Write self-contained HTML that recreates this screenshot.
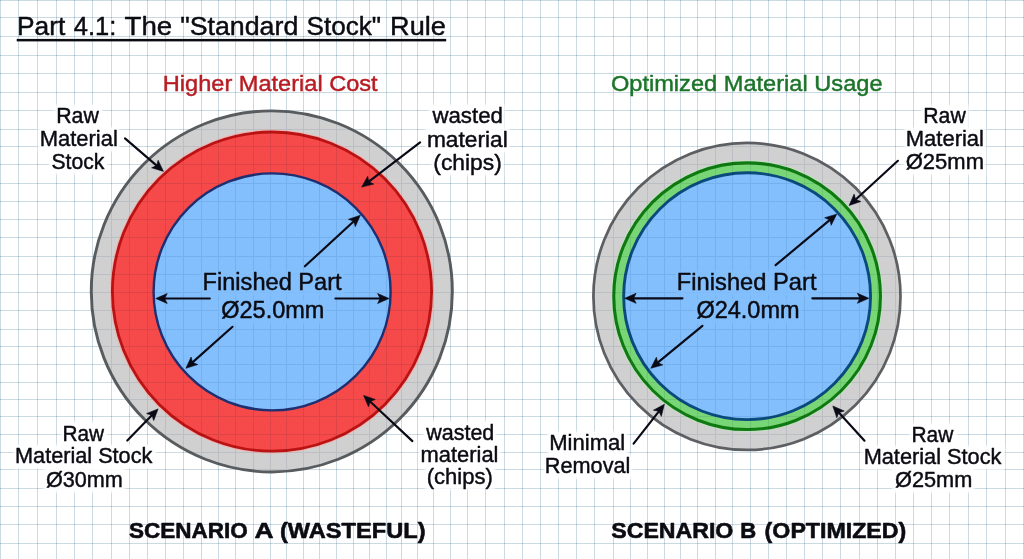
<!DOCTYPE html>
<html lang="en"><head><meta charset="utf-8"><title>Part 4.1: The Standard Stock Rule</title>
<style>html,body{margin:0;padding:0;background:#fff;}body{width:1024px;height:559px;overflow:hidden;}svg{display:block;font-family:"Liberation Sans",Arial,Helvetica,sans-serif;}.mul{mix-blend-mode:multiply;}</style></head><body>
<svg width="1024" height="559" viewBox="0 0 1024 559">
<rect width="1024" height="559" fill="#ffffff"/>
<g id="grid" fill="none" stroke="#cbdae2" stroke-width="1"><path class="mul" d="M0.5 0V559M18.5 0V559M37.5 0V559M56.5 0V559M74.5 0V559M92.5 0V559M111.5 0V559M129.5 0V559M147.5 0V559M165.5 0V559M183.5 0V559M201.5 0V559M218.5 0V559M235.5 0V559M253.5 0V559M270.5 0V559M286.5 0V559M303.5 0V559M319.5 0V559M336.5 0V559M353.5 0V559M369.5 0V559M386.5 0V559M401.5 0V559M417.5 0V559M433.5 0V559M450.5 0V559M467.5 0V559M485.5 0V559M504.5 0V559M522.5 0V559M540.5 0V559M558.5 0V559M576.5 0V559M594.5 0V559M613.5 0V559M630.5 0V559M647.5 0V559M664.5 0V559M680.5 0V559M697.5 0V559M715.5 0V559M732.5 0V559M750.5 0V559M768.5 0V559M786.5 0V559M804.5 0V559M822.5 0V559M840.5 0V559M859.5 0V559M877.5 0V559M895.5 0V559M913.5 0V559M931.5 0V559M949.5 0V559M968.5 0V559M986.5 0V559M1005.5 0V559M1023.5 0V559"/><path class="mul" d="M0 0.5H1024M0 17.5H1024M0 36.5H1024M0 55.5H1024M0 73.5H1024M0 92.5H1024M0 110.5H1024M0 129.5H1024M0 146.5H1024M0 164.5H1024M0 183.5H1024M0 201.5H1024M0 219.5H1024M0 237.5H1024M0 256.5H1024M0 274.5H1024M0 292.5H1024M0 310.5H1024M0 329.5H1024M0 346.5H1024M0 364.5H1024M0 382.5H1024M0 399.5H1024M0 416.5H1024M0 434.5H1024M0 452.5H1024M0 469.5H1024M0 488.5H1024M0 506.5H1024M0 524.5H1024M0 543.5H1024"/></g>
<defs><filter id="bl" x="-10%" y="-20%" width="120%" height="140%"><feGaussianBlur stdDeviation="1.3"/></filter></defs>
<g id="knockout" fill="#ffffff" fill-opacity="0.92" filter="url(#bl)">
<rect x="54.6" y="104.8" width="47.5" height="24"/>
<rect x="38.1" y="127.3" width="81.5" height="24"/>
<rect x="49.2" y="150.2" width="58.4" height="24"/>
<rect x="429.2" y="104.2" width="75.6" height="24"/>
<rect x="425.2" y="128.2" width="84.4" height="24"/>
<rect x="431.6" y="151.4" width="72.1" height="24"/>
<rect x="60.8" y="422.2" width="46.5" height="24"/>
<rect x="13.5" y="444.9" width="142.0" height="24"/>
<rect x="43.7" y="468.5" width="81.0" height="24"/>
<rect x="423.0" y="421.1" width="73.2" height="24"/>
<rect x="418.8" y="443.8" width="81.5" height="24"/>
<rect x="425.0" y="465.7" width="69.8" height="24"/>
<rect x="921.7" y="104.9" width="47.3" height="24"/>
<rect x="904.2" y="127.9" width="81.6" height="24"/>
<rect x="903.5" y="150.9" width="82.3" height="24"/>
<rect x="547.7" y="431.4" width="79.4" height="24"/>
<rect x="543.3" y="454.7" width="88.8" height="24"/>
<rect x="909.9" y="423.1" width="46.8" height="24"/>
<rect x="862.1" y="445.7" width="142.6" height="24"/>
<rect x="892.7" y="468.8" width="81.4" height="24"/>
</g>
<g id="shapes">
<circle cx="271.8" cy="291.4" r="180.55" fill="#d0d0d0" stroke="#585c5e" stroke-width="2.9"/>
<circle cx="272" cy="291.6" r="161.5" fill="none" stroke="#f3b4b4" stroke-width="1.2"/>
<circle cx="272" cy="291.6" r="159.60" fill="#f6494a" stroke="#bb1313" stroke-width="2.8"/>
<circle cx="272.1" cy="291.9" r="118.50" fill="#82bffc" stroke="#1f2f70" stroke-width="2.4"/>
<circle cx="746.95" cy="296.4" r="153.55" fill="#d0d0d0" stroke="#5e5f62" stroke-width="2.7"/>
<circle cx="747.1" cy="296.2" r="135.3" fill="none" stroke="#bfe3bf" stroke-width="1.2"/>
<circle cx="747.1" cy="296.2" r="133.35" fill="#78d676" stroke="#107a12" stroke-width="3.1"/>
<circle cx="747.1" cy="296.2" r="123.45" fill="#82bffc" stroke="#0a4a7c" stroke-width="2.9"/>
</g>
<clipPath id="cc"><circle cx="272" cy="291.5" r="180.4"/><circle cx="747" cy="296.2" r="153.2"/></clipPath>
<g id="grid-over" class="mul" clip-path="url(#cc)" fill="none" stroke="#e5ebf1" stroke-width="1"><path d="M0.5 0V559M18.5 0V559M37.5 0V559M56.5 0V559M74.5 0V559M92.5 0V559M111.5 0V559M129.5 0V559M147.5 0V559M165.5 0V559M183.5 0V559M201.5 0V559M218.5 0V559M235.5 0V559M253.5 0V559M270.5 0V559M286.5 0V559M303.5 0V559M319.5 0V559M336.5 0V559M353.5 0V559M369.5 0V559M386.5 0V559M401.5 0V559M417.5 0V559M433.5 0V559M450.5 0V559M467.5 0V559M485.5 0V559M504.5 0V559M522.5 0V559M540.5 0V559M558.5 0V559M576.5 0V559M594.5 0V559M613.5 0V559M630.5 0V559M647.5 0V559M664.5 0V559M680.5 0V559M697.5 0V559M715.5 0V559M732.5 0V559M750.5 0V559M768.5 0V559M786.5 0V559M804.5 0V559M822.5 0V559M840.5 0V559M859.5 0V559M877.5 0V559M895.5 0V559M913.5 0V559M931.5 0V559M949.5 0V559M968.5 0V559M986.5 0V559M1005.5 0V559M1023.5 0V559M0 0.5H1024M0 17.5H1024M0 36.5H1024M0 55.5H1024M0 73.5H1024M0 92.5H1024M0 110.5H1024M0 129.5H1024M0 146.5H1024M0 164.5H1024M0 183.5H1024M0 201.5H1024M0 219.5H1024M0 237.5H1024M0 256.5H1024M0 274.5H1024M0 292.5H1024M0 310.5H1024M0 329.5H1024M0 346.5H1024M0 364.5H1024M0 382.5H1024M0 399.5H1024M0 416.5H1024M0 434.5H1024M0 452.5H1024M0 469.5H1024M0 488.5H1024M0 506.5H1024M0 524.5H1024M0 543.5H1024"/></g>
<g id="knockout-in" fill="#82bffc" fill-opacity="0.8" filter="url(#bl)">
<rect x="201.4" y="271.1" width="143.2" height="25"/>
<rect x="219.0" y="299.0" width="107.2" height="25"/>
<rect x="675.7" y="270.9" width="143.8" height="25"/>
<rect x="694.2" y="298.8" width="107.2" height="25"/>
</g>
<g id="arrows" fill="#0a0a16" stroke="#0a0a16">
<line x1="125.0" y1="138.4" x2="156.7" y2="165.6" stroke-width="2.15" stroke-linecap="round"/>
<polygon points="163.5,171.4 151.6,167.8 156.7,165.6 158.1,160.2" stroke-width="0.6" stroke-linejoin="round"/>
<line x1="420.1" y1="142.4" x2="368.8" y2="181.7" stroke-width="2.15" stroke-linecap="round"/>
<polygon points="361.7,187.1 367.7,176.2 368.8,181.7 373.8,184.1" stroke-width="0.6" stroke-linejoin="round"/>
<line x1="304.9" y1="266.3" x2="353.8" y2="221.3" stroke-width="2.15" stroke-linecap="round"/>
<polygon points="360.3,215.3 355.3,226.7 353.8,221.3 348.5,219.3" stroke-width="0.6" stroke-linejoin="round"/>
<line x1="209.8" y1="298.5" x2="164.7" y2="298.5" stroke-width="2.15" stroke-linecap="round"/>
<polygon points="155.8,298.5 167.2,293.5 164.7,298.5 167.2,303.5" stroke-width="0.6" stroke-linejoin="round"/>
<line x1="335.4" y1="298.5" x2="380.1" y2="298.5" stroke-width="2.15" stroke-linecap="round"/>
<polygon points="389.0,298.5 377.6,303.5 380.1,298.5 377.6,293.5" stroke-width="0.6" stroke-linejoin="round"/>
<line x1="232.5" y1="326.8" x2="192.5" y2="362.4" stroke-width="2.15" stroke-linecap="round"/>
<polygon points="185.9,368.3 191.1,357.0 192.5,362.4 197.7,364.5" stroke-width="0.6" stroke-linejoin="round"/>
<line x1="127.3" y1="440.5" x2="151.9" y2="415.3" stroke-width="2.15" stroke-linecap="round"/>
<polygon points="158.1,408.9 153.7,420.6 151.9,415.3 146.6,413.6" stroke-width="0.6" stroke-linejoin="round"/>
<line x1="412.4" y1="441.1" x2="370.1" y2="401.5" stroke-width="2.15" stroke-linecap="round"/>
<polygon points="363.6,395.4 375.3,399.5 370.1,401.5 368.5,406.8" stroke-width="0.6" stroke-linejoin="round"/>
<line x1="897.9" y1="160.8" x2="855.7" y2="199.5" stroke-width="2.15" stroke-linecap="round"/>
<polygon points="849.1,205.5 854.1,194.1 855.7,199.5 860.9,201.5" stroke-width="0.6" stroke-linejoin="round"/>
<line x1="775.6" y1="265.2" x2="829.9" y2="219.9" stroke-width="2.15" stroke-linecap="round"/>
<polygon points="836.7,214.2 831.2,225.3 829.9,219.9 824.7,217.7" stroke-width="0.6" stroke-linejoin="round"/>
<line x1="682.5" y1="298.3" x2="633.6" y2="298.3" stroke-width="2.15" stroke-linecap="round"/>
<polygon points="624.7,298.3 636.1,293.3 633.6,298.3 636.1,303.3" stroke-width="0.6" stroke-linejoin="round"/>
<line x1="812.3" y1="298.3" x2="859.9" y2="298.3" stroke-width="2.15" stroke-linecap="round"/>
<polygon points="868.8,298.3 857.4,303.3 859.9,298.3 857.4,293.3" stroke-width="0.6" stroke-linejoin="round"/>
<line x1="702.4" y1="325.8" x2="657.7" y2="362.6" stroke-width="2.15" stroke-linecap="round"/>
<polygon points="650.8,368.3 656.4,357.2 657.7,362.6 662.8,364.9" stroke-width="0.6" stroke-linejoin="round"/>
<line x1="633.6" y1="443.7" x2="658.9" y2="411.3" stroke-width="2.15" stroke-linecap="round"/>
<polygon points="664.4,404.3 661.3,416.4 658.9,411.3 653.4,410.2" stroke-width="0.6" stroke-linejoin="round"/>
<line x1="864.5" y1="440.7" x2="838.8" y2="412.6" stroke-width="2.15" stroke-linecap="round"/>
<polygon points="832.8,406.0 844.2,411.0 838.8,412.6 836.8,417.8" stroke-width="0.6" stroke-linejoin="round"/>
</g>
<rect x="16.7" y="38.9" width="429.5" height="2.5" fill="#0b0b12"/>
<g id="labels" stroke-linejoin="round">
<text transform="translate(162.82 90.9) scale(1.0340 1)" font-size="22.8" font-weight="400" fill="#b81c22" stroke="#b81c22" stroke-width="0.45">Higher Material Cost</text>
<text transform="translate(610.89 90.8) scale(1.0365 1)" font-size="22.8" font-weight="400" fill="#1b7428" stroke="#1b7428" stroke-width="0.45">Optimized Material Usage</text>
<text transform="translate(56.18 123.3) scale(0.9383 1)" font-size="22.7" font-weight="400" fill="#0b0b12" stroke="#0b0b12" stroke-width="0.45">Raw</text>
<text transform="translate(39.63 145.8) scale(0.9684 1)" font-size="22.7" font-weight="400" fill="#0b0b12" stroke="#0b0b12" stroke-width="0.45">Material</text>
<text transform="translate(51.49 168.7) scale(0.9318 1)" font-size="22.7" font-weight="400" fill="#0b0b12" stroke="#0b0b12" stroke-width="0.45">Stock</text>
<text transform="translate(432.43 122.7) scale(0.9809 1)" font-size="22.7" font-weight="400" fill="#0b0b12" stroke="#0b0b12" stroke-width="0.45">wasted</text>
<text transform="translate(426.92 146.7) scale(1.0026 1)" font-size="22.7" font-weight="400" fill="#0b0b12" stroke="#0b0b12" stroke-width="0.45">material</text>
<text transform="translate(433.32 169.9) scale(1.0061 1)" font-size="22.7" font-weight="400" fill="#0b0b12" stroke="#0b0b12" stroke-width="0.45">(chips)</text>
<text transform="translate(202.57 290.1) scale(1.0263 1)" font-size="23.0" font-weight="400" fill="#0b0b12" stroke="#0b0b12" stroke-width="0.45">Finished Part</text>
<text transform="translate(221.20 318) scale(1.0228 1)" font-size="23.0" font-weight="400" fill="#0b0b12" stroke="#0b0b12" stroke-width="0.45">Ø25.0mm</text>
<text transform="translate(62.42 440.7) scale(0.9154 1)" font-size="22.7" font-weight="400" fill="#0b0b12" stroke="#0b0b12" stroke-width="0.45">Raw</text>
<text transform="translate(15.05 463.4) scale(0.9546 1)" font-size="22.7" font-weight="400" fill="#0b0b12" stroke="#0b0b12" stroke-width="0.45">Material Stock</text>
<text transform="translate(45.97 487) scale(0.9527 1)" font-size="22.7" font-weight="400" fill="#0b0b12" stroke="#0b0b12" stroke-width="0.45">Ø30mm</text>
<text transform="translate(426.23 439.6) scale(0.9468 1)" font-size="22.7" font-weight="400" fill="#0b0b12" stroke="#0b0b12" stroke-width="0.45">wasted</text>
<text transform="translate(420.58 462.3) scale(0.9653 1)" font-size="22.7" font-weight="400" fill="#0b0b12" stroke="#0b0b12" stroke-width="0.45">material</text>
<text transform="translate(426.77 484.2) scale(0.9709 1)" font-size="22.7" font-weight="400" fill="#0b0b12" stroke="#0b0b12" stroke-width="0.45">(chips)</text>
<text transform="translate(923.29 123.4) scale(0.9337 1)" font-size="22.7" font-weight="400" fill="#0b0b12" stroke="#0b0b12" stroke-width="0.45">Raw</text>
<text transform="translate(905.73 146.4) scale(0.9697 1)" font-size="22.7" font-weight="400" fill="#0b0b12" stroke="#0b0b12" stroke-width="0.45">Material</text>
<text transform="translate(905.76 169.4) scale(0.9693 1)" font-size="22.7" font-weight="400" fill="#0b0b12" stroke="#0b0b12" stroke-width="0.45">Ø25mm</text>
<text transform="translate(676.86 289.9) scale(1.0308 1)" font-size="23.0" font-weight="400" fill="#0b0b12" stroke="#0b0b12" stroke-width="0.45">Finished Part</text>
<text transform="translate(696.40 317.8) scale(1.0228 1)" font-size="23.0" font-weight="400" fill="#0b0b12" stroke="#0b0b12" stroke-width="0.45">Ø24.0mm</text>
<text transform="translate(549.22 449.9) scale(0.9727 1)" font-size="22.7" font-weight="400" fill="#0b0b12" stroke="#0b0b12" stroke-width="0.45">Minimal</text>
<text transform="translate(544.85 473.2) scale(0.9548 1)" font-size="22.7" font-weight="400" fill="#0b0b12" stroke="#0b0b12" stroke-width="0.45">Removal</text>
<text transform="translate(911.51 441.6) scale(0.9223 1)" font-size="22.7" font-weight="400" fill="#0b0b12" stroke="#0b0b12" stroke-width="0.45">Raw</text>
<text transform="translate(863.65 464.2) scale(0.9588 1)" font-size="22.7" font-weight="400" fill="#0b0b12" stroke="#0b0b12" stroke-width="0.45">Material Stock</text>
<text transform="translate(894.97 487.3) scale(0.9578 1)" font-size="22.7" font-weight="400" fill="#0b0b12" stroke="#0b0b12" stroke-width="0.45">Ø25mm</text>
<text y="35.3" font-size="26.3" font-weight="400" fill="#0b0b12" stroke="#0b0b12" stroke-width="0.45"><tspan x="16.98" textLength="48.23" lengthAdjust="spacingAndGlyphs">Part</tspan> <tspan x="73.74" textLength="42.53" lengthAdjust="spacingAndGlyphs">4.1:</tspan> <tspan x="124.50" textLength="47.70" lengthAdjust="spacingAndGlyphs">The</tspan> <tspan x="180.15" textLength="118.17" lengthAdjust="spacingAndGlyphs">&quot;Standard</tspan> <tspan x="306.48" textLength="74.59" lengthAdjust="spacingAndGlyphs">Stock&quot;</tspan> <tspan x="390.10" textLength="55.79" lengthAdjust="spacingAndGlyphs">Rule</tspan></text>
<text y="538.1" font-size="22.9" font-weight="700" fill="#0b0b12" stroke="#0b0b12" stroke-width="0.6"><tspan x="128.96" textLength="118.79" lengthAdjust="spacingAndGlyphs">SCENARIO</tspan> <tspan x="254.45" textLength="18.14" lengthAdjust="spacingAndGlyphs">A</tspan> <tspan x="279.91" textLength="145.61" lengthAdjust="spacingAndGlyphs">(WASTEFUL)</tspan></text>
<text y="538.1" font-size="22.9" font-weight="700" fill="#0b0b12" stroke="#0b0b12" stroke-width="0.6"><tspan x="611.24" textLength="122.13" lengthAdjust="spacingAndGlyphs">SCENARIO</tspan> <tspan x="740.25" textLength="15.95" lengthAdjust="spacingAndGlyphs">B</tspan> <tspan x="764.63" textLength="141.65" lengthAdjust="spacingAndGlyphs">(OPTIMIZED)</tspan></text>
</g>
</svg></body></html>
